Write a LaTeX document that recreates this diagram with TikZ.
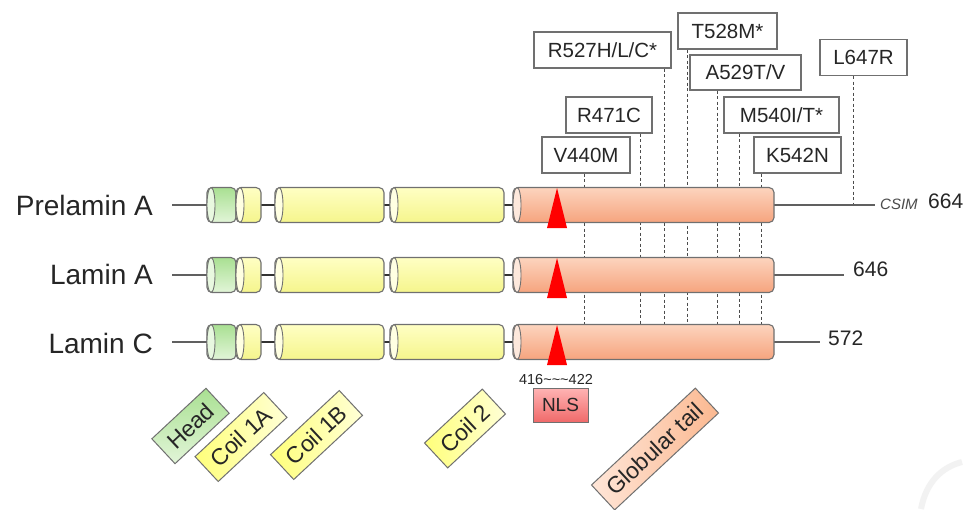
\documentclass[tikz,border=0pt]{standalone}
\usepackage{fontspec}
\setmainfont{Liberation Sans}
\newcommand\setfs[1]{\fontsize{#1}{#1}\selectfont}
\definecolor{edge}{HTML}{707070}
\definecolor{bonec}{HTML}{606060}
\definecolor{gTop}{HTML}{A9E092}
\definecolor{gBot}{HTML}{E2F5D8}
\definecolor{gLens}{HTML}{E8F8E0}
\definecolor{yTop}{HTML}{FFFFC4}
\definecolor{yBot}{HTML}{F5F58C}
\definecolor{yLens}{HTML}{FFFFE2}
\definecolor{tTop}{HTML}{FCD4BE}
\definecolor{tBot}{HTML}{F6A47E}
\definecolor{tLens}{HTML}{FDE8DC}
\definecolor{nTop}{HTML}{FFB4B4}
\definecolor{nBot}{HTML}{F06A6A}
\definecolor{cL}{HTML}{FFFF7A}
\definecolor{cR}{HTML}{FFFFD6}
\definecolor{gtL}{HTML}{FFE6D8}
\definecolor{gtR}{HTML}{FBB890}
\newcommand\cylseg[7]{%
  \node[seg, top color=#5, bottom color=#6, minimum width={#3-#2}] (#1) at ({(#2+#3)/2},#4) {};
  \draw[lens, fill=#7] ([xshift=4pt]#1.west) ellipse [x radius=4, y radius=17.5];
}
\begin{document}
\begin{tikzpicture}[x=1pt,y=-1pt,
  mut/.style={draw=edge, line width=1.2pt, fill=white, font=\setfs{20.5}, text=black!85, inner sep=0pt, minimum height=36},
  seg/.style={draw=edge, line width=1.1pt, rounded corners=5, minimum height=35, inner sep=0pt, outer sep=0pt},
  lens/.style={draw=edge, line width=0.9pt},
  bone/.style={draw=bonec, line width=2.6pt},
  link/.style={draw=black!80, line width=1.6pt},
  guide/.style={draw=black!70, dash pattern=on 3pt off 2.5pt, line width=0.8pt},
  rowlbl/.style={font=\setfs{28}, text=black!85, anchor=east, inner sep=0pt},
  num/.style={font=\setfs{21}, text=black!85, anchor=west, inner sep=0pt},
  tag/.style={draw=edge, line width=1pt, rotate=43, font=\setfs{23}, text=black!85, inner sep=0pt, minimum height=34}
]
\useasboundingbox[fill=white] (0,0) rectangle (968,509);

% mutation boxes
\node[mut, minimum width=137] (R527) at (602.5,50) {R527H/L/C*};
\node[mut, minimum width=99] (T528) at (727.5,31) {T528M*};
\node[mut, minimum width=111, minimum height=35] (A529) at (745.5,72.5) {A529T/V};
\node[mut, minimum width=87] (L647) at (863.5,57.5) {L647R};
\node[mut, minimum width=86] (R471) at (609,115) {R471C};
\node[mut, minimum width=115] (M540) at (781.5,115) {M540I/T*};
\node[mut, minimum width=88] (V440) at (586,155) {V440M};
\node[mut, minimum width=87] (K542) at (797.5,155) {K542N};

% guide lines
\coordinate (g440) at (584,324);
\coordinate (g471) at (640,324);
\coordinate (g527) at (664,324);
\coordinate (g528) at (687,324);
\coordinate (g529) at (717,324);
\coordinate (g540) at (739,324);
\coordinate (g542) at (761,324);
\coordinate (g647) at (853,205);
\draw[guide] (V440.south -| g440) -- (g440);
\draw[guide] (R471.south -| g471) -- (g471);
\draw[guide] (R527.south -| g527) -- (g527);
\draw[guide] (T528.south -| g528) -- (g528);
\draw[guide] (A529.south -| g529) -- (g529);
\draw[guide] (M540.south -| g540) -- (g540);
\draw[guide] (K542.south -| g542) -- (g542);
\draw[guide] (L647.south -| g647) -- (g647);

% row labels
\node[rowlbl] (pre) at (153,205) {Prelamin A};
\node[rowlbl] (lamA) at (153,274) {Lamin A};
\node[rowlbl] (lamC) at (153,343) {Lamin C};

% backbone ends
\coordinate (L1) at (172,205); \coordinate (R1) at (875,205);
\coordinate (L2) at (172,275); \coordinate (R2) at (844,275);
\coordinate (L3) at (172,342); \coordinate (R3) at (820,342);

% rows
\foreach \r/\y/\e in {1/205/R1, 2/275/R2, 3/342/R3} {
  \draw[bone] (L\r) -- (207,\y);
  \draw[bone] (774,\y) -- (\e);
  \draw[link] (261,\y) -- (275,\y);
  \draw[link] (384,\y) -- (390,\y);
  \draw[link] (504,\y) -- (513,\y);
  \cylseg{h\r}{207}{236}{\y}{gTop}{gBot}{gLens}
  \cylseg{a\r}{236}{261}{\y}{yTop}{yBot}{yLens}
  \cylseg{b\r}{275}{384}{\y}{yTop}{yBot}{yLens}
  \cylseg{c\r}{390}{504}{\y}{yTop}{yBot}{yLens}
  \cylseg{t\r}{513}{774}{\y}{tTop}{tBot}{tLens}
  \fill[red] (547,\y+23) -- (557,\y-17) -- (567,\y+23) -- cycle;
}

% end labels
\node[font=\setfs{15}\itshape, text=black!70, anchor=west, inner sep=0pt] (csim) at (880,204) {CSIM};
\node[num] (n664) at (928,201) {664};
\node[num] (n646) at (853,269) {646};
\node[num] (n572) at (828,338) {572};

% NLS
\node[font=\setfs{14.5}, text=black!85, inner sep=0pt] (range) at (556,379) {416\textasciitilde\textasciitilde\textasciitilde 422};
\node[draw=edge, line width=1pt, top color=nTop, bottom color=nBot, minimum width=55, minimum height=34, font=\setfs{19}, text=black!85, inner sep=0pt] (NLS) at (560.5,405) {NLS};

% domain tags
\node[tag, minimum width=74, top color=gTop, bottom color=gBot] (headtag) at (190.5,426) {Head};
\node[tag, minimum width=94, left color=cL, right color=cR] (c1atag) at (241,437) {Coil 1A};
\node[tag, minimum width=94, left color=cL, right color=cR] (c1btag) at (316.5,435) {Coil 1B};
\node[tag, minimum width=79, left color=cL, right color=cR] (c2tag) at (465,428.5) {Coil 2};
\node[tag, minimum width=142, left color=gtL, right color=gtR] (gtag) at (655,449) {Globular tail};

% faint watermark arc
\draw[black!5, line width=6pt] (921,509) .. controls (926,482) and (942,467) .. (962,462);
\end{tikzpicture}
\end{document}
